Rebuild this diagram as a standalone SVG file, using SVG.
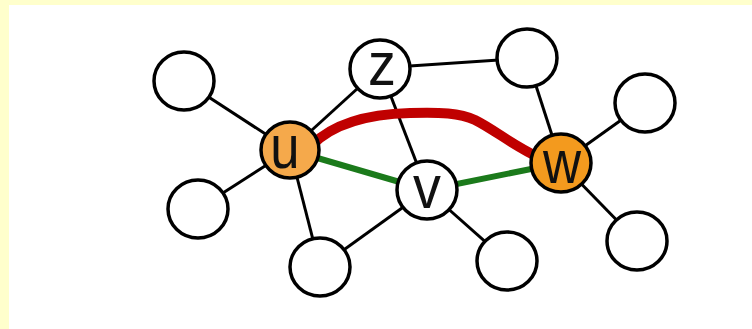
<svg xmlns="http://www.w3.org/2000/svg" width="752" height="329" viewBox="0 0 752 329">
<style>
.edge{stroke:#000;stroke-width:3;fill:none}
.node{stroke:#000;stroke-width:3.5;fill:#fff}
.lbl{font-family:"Liberation Sans",Arial,sans-serif;font-size:62px;fill:#111;text-anchor:middle}
</style>
<rect x="0" y="0" width="752" height="329" fill="#FFFFCC"/>
<rect x="9" y="5" width="743" height="324" fill="#fff"/>
<g id="connectors">
<line class="edge" x1="184" y1="81" x2="290" y2="150"/>
<line class="edge" x1="198" y1="209" x2="290" y2="150"/>
<line class="edge" x1="320" y1="267" x2="290" y2="150"/>
<line class="edge" x1="380" y1="68" x2="290" y2="150"/>
<line class="edge" x1="380" y1="68" x2="527" y2="58"/>
<line class="edge" x1="380" y1="68" x2="427" y2="190"/>
<line class="edge" x1="527" y1="58" x2="561" y2="163"/>
<line class="edge" x1="645" y1="103" x2="561" y2="163"/>
<line class="edge" x1="637" y1="241" x2="561" y2="163"/>
<line class="edge" x1="320" y1="267" x2="427" y2="190"/>
<line class="edge" x1="507" y1="261" x2="427" y2="190"/>
<path d="M290,150 L427,190 L561,163" stroke="#1B7A1B" stroke-width="6" fill="none" stroke-linejoin="round"/>
<path d="M312,145 C335,122 370,114 410,113 C440,112 460,113 475,120 C495,130 512,145 540,158" stroke="#C00000" stroke-width="10" fill="none" stroke-linecap="round"/>
</g>
<g id="n1"><ellipse class="node" cx="184" cy="81" rx="30" ry="29"/></g>
<g id="n2"><ellipse class="node" cx="198" cy="209" rx="30" ry="29"/></g>
<g id="n3"><ellipse class="node" cx="320" cy="267" rx="30" ry="29"/></g>
<g id="n4"><ellipse class="node" cx="527" cy="58" rx="30" ry="29"/></g>
<g id="n5"><ellipse class="node" cx="645" cy="103" rx="30" ry="29"/></g>
<g id="n6"><ellipse class="node" cx="637" cy="241" rx="30" ry="29"/></g>
<g id="n7"><ellipse class="node" cx="507" cy="261" rx="30" ry="29"/></g>
<g id="u"><ellipse class="node" cx="290" cy="150" rx="29" ry="28" style="fill:#F5A94B"/><text class="lbl" transform="translate(285,168) scale(0.85,1)">u</text></g>
<g id="z"><ellipse class="node" cx="380" cy="69" rx="30" ry="29"/><text class="lbl" transform="translate(382,85) scale(0.9,1)">z</text></g>
<g id="v"><ellipse class="node" cx="427" cy="190" rx="30" ry="29"/><text class="lbl" transform="translate(427,208) scale(0.9,1)">v</text></g>
<g id="w"><ellipse class="node" cx="561" cy="163" rx="30" ry="29" style="fill:#F39A1E"/><text class="lbl" transform="translate(562,183) scale(0.85,1)">w</text></g>
</svg>
